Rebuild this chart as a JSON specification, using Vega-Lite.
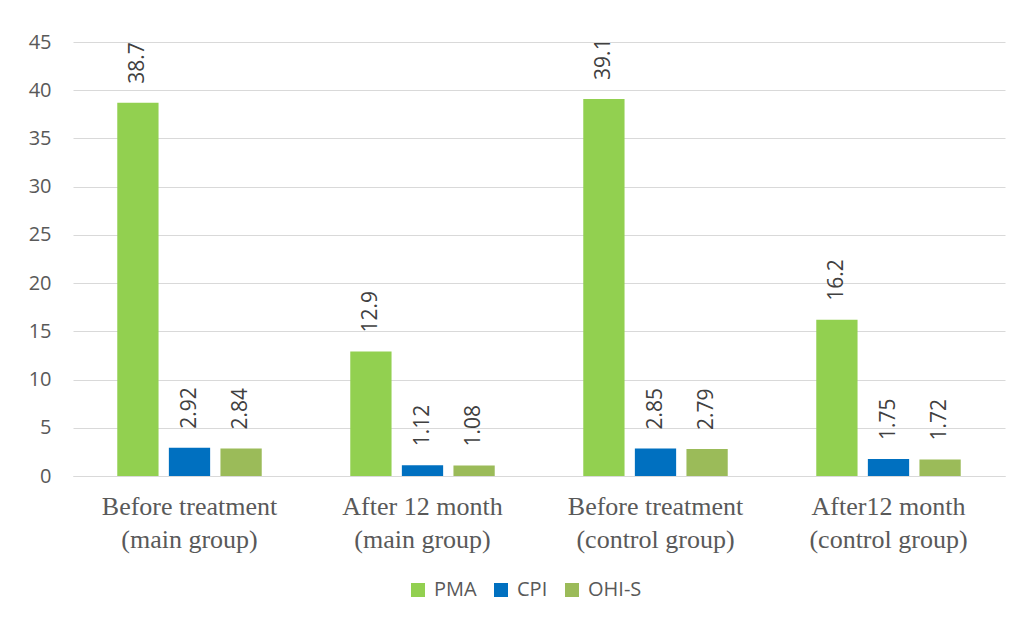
{
  "$schema": "https://vega.github.io/schema/vega-lite/v6.json",
  "width": 932,
  "height": 434,
  "autosize": "none",
  "padding": {"left": 73, "top": 42, "right": 17, "bottom": 146},
  "background": "white",
  "config": {
    "view": {"stroke": null},
    "font": "Open Sans"
  },
  "data": {
    "values": [
      {"group": "Before treatment|(main group)", "series": "PMA", "value": 38.7},
      {"group": "Before treatment|(main group)", "series": "CPI", "value": 2.92},
      {"group": "Before treatment|(main group)", "series": "OHI-S", "value": 2.84},
      {"group": "After 12 month|(main group)", "series": "PMA", "value": 12.9},
      {"group": "After 12 month|(main group)", "series": "CPI", "value": 1.12},
      {"group": "After 12 month|(main group)", "series": "OHI-S", "value": 1.08},
      {"group": "Before treatment|(control group)", "series": "PMA", "value": 39.1},
      {"group": "Before treatment|(control group)", "series": "CPI", "value": 2.85},
      {"group": "Before treatment|(control group)", "series": "OHI-S", "value": 2.79},
      {"group": "After12 month|(control group)", "series": "PMA", "value": 16.2},
      {"group": "After12 month|(control group)", "series": "CPI", "value": 1.75},
      {"group": "After12 month|(control group)", "series": "OHI-S", "value": 1.72}
    ]
  },
  "encoding": {
    "x": {
      "field": "group", "type": "nominal", "sort": null,
      "scale": {"paddingInner": 0.38, "paddingOuter": 0.19},
      "axis": {
        "title": null, "labelAngle": 0, "ticks": false, "domain": true,
        "domainColor": "#d9d9d9", "domainWidth": 1,
        "labelExpr": "split(datum.label, '|')",
        "labelFont": "Liberation Serif", "labelFontSize": 26, "labelColor": "#595959",
        "labelPadding": 17, "labelLineHeight": 33
      }
    },
    "xOffset": {
      "field": "series", "type": "nominal", "sort": ["PMA", "CPI", "OHI-S"],
      "scale": {"paddingInner": 0.2, "paddingOuter": 0}
    },
    "y": {
      "field": "value", "type": "quantitative",
      "scale": {"domain": [0, 45]},
      "axis": {
        "title": null, "values": [0,5,10,15,20,25,30,35,40,45], "domain": false, "ticks": false,
        "gridColor": "#d9d9d9", "gridWidth": 1,
        "labelFont": "Open Sans", "labelFontSize": 20, "labelColor": "#595959", "labelPadding": 22
      }
    }
  },
  "layer": [
    {
      "mark": {"type": "bar"},
      "encoding": {
        "color": {
          "field": "series", "type": "nominal",
          "sort": ["PMA", "CPI", "OHI-S"],
          "scale": {"domain": ["PMA", "CPI", "OHI-S"], "range": ["#92D050", "#0070C0", "#9BBB59"]},
          "legend": {
            "title": null, "orient": "none", "direction": "horizontal",
            "legendX": 335, "legendY": 538, "symbolType": "square", "symbolSize": 196,
            "symbolStrokeWidth": 0,
            "labelFont": "Open Sans", "labelFontSize": 20, "labelColor": "#595959",
            "columnPadding": 14, "labelOffset": 6
          }
        }
      }
    },
    {
      "mark": {"type": "text", "angle": 270, "align": "left", "baseline": "middle", "dx": 19, "fontSize": 21, "font": "Open Sans", "color": "#404040"},
      "encoding": {
        "text": {"field": "value", "type": "quantitative"}
      }
    }
  ]
}
